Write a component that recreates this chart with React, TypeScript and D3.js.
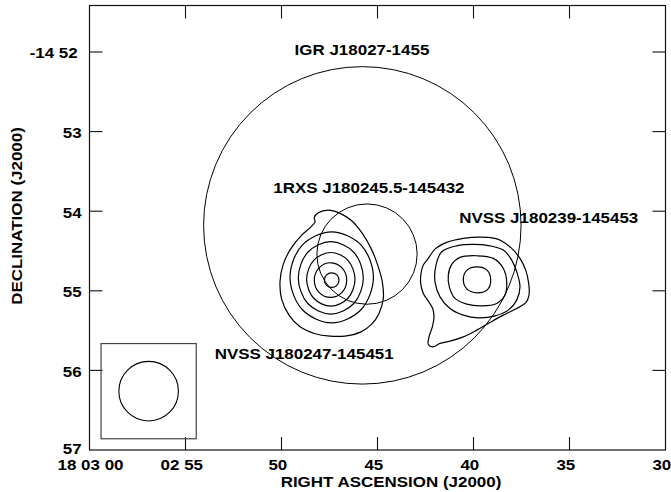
import React from 'react';
import * as d3 from 'd3';

const W = 671;
const H = 492;
const margin = { top: 5.5, right: 5.5, bottom: 42, left: 89.5 };

// RA in seconds past 18h02m, Dec in arcmin south of -14d
const raDomain = [60, 30];
const decDomain = [51.416, 57];
const raTicks = [60, 55, 50, 45, 40, 35, 30];
const raTickLabels = ['18 03 00', '02 55', '50', '45', '40', '35', '30'];
const decTicks = [52, 53, 54, 55, 56, 57];
const decTickLabels = ['-14 52', '53', '54', '55', '56', '57'];

// error circles (radius in arcmin)
const errorCircles = [
  { name: 'IGR J18027-1455', ra: 45.79, dec: 54.178, r: 1.994 },
  { name: '1RXS J180245.5-145432', ra: 45.546, dec: 54.539, r: 0.63 },
];

// synthesized beam
const beam = { ra: 56.92, dec: 56.261, r: 0.374, half: 0.598 };

// radio contours, NVSS J180247-145451 (inner to outer)
const contoursEast: [number, number][][] = [
  [[47.385, 54.774], [47.114, 54.8], [47.005, 54.866], [47.114, 54.931], [47.385, 54.958], [47.656, 54.931], [47.765, 54.866], [47.656, 54.8]],
  [[47.447, 54.648], [46.849, 54.712], [46.604, 54.866], [46.849, 55.019], [47.447, 55.083], [48.046, 55.019], [48.291, 54.866], [48.046, 54.712]],
  [[47.432, 54.519], [46.541, 54.617], [46.171, 54.856], [46.541, 55.094], [47.432, 55.193], [48.322, 55.094], [48.692, 54.856], [48.322, 54.617]],
  [[47.432, 54.383], [46.234, 54.516], [45.739, 54.838], [46.234, 55.16], [47.432, 55.293], [48.63, 55.16], [49.125, 54.838], [48.63, 54.516]],
  [[47.385, 54.259], [45.849, 54.426], [45.213, 54.831], [45.849, 55.235], [47.385, 55.403], [48.921, 55.235], [49.557, 54.831], [48.921, 54.426]],
  [
    [48.083, 54.02], [47.562, 53.986], [46.953, 54.027], [46.343, 54.12], [45.791, 54.279], [45.338, 54.467],
    [44.989, 54.677], [44.75, 54.887], [44.697, 55.096], [44.921, 55.284], [45.302, 55.419], [45.859, 55.516],
    [46.604, 55.566], [47.474, 55.57], [48.291, 55.536], [49.036, 55.453], [49.609, 55.306], [49.989, 55.108],
    [50.078, 54.887], [49.906, 54.665], [49.505, 54.467], [48.947, 54.3], [48.463, 54.196], [48.255, 54.133],
    [48.291, 54.078],
  ],
];

// radio contours, NVSS J180239-145453 (inner to outer)
const contoursWest: [number, number][][] = [
  [[39.817, 54.699], [39.296, 54.74], [39.104, 54.862], [39.27, 54.985], [39.817, 55.025], [40.338, 54.979], [40.531, 54.862], [40.338, 54.74]],
  [
    [40.703, 54.58], [39.833, 54.56], [38.968, 54.593], [38.447, 54.719], [38.27, 54.887], [38.359, 55.054],
    [38.791, 55.159], [39.572, 55.189], [40.354, 55.167], [40.963, 55.096], [41.26, 54.95], [41.312, 54.803],
    [41.135, 54.668],
  ],
  [
    [41.656, 54.51], [40.875, 54.435], [40.01, 54.417], [39.14, 54.435], [38.447, 54.489], [38.01, 54.614],
    [37.75, 54.761], [37.578, 54.95], [37.75, 55.117], [38.187, 55.243], [38.88, 55.315], [39.75, 55.34],
    [40.531, 55.306], [41.224, 55.222], [41.744, 55.076], [42.005, 54.887], [41.953, 54.677],
  ],
  [
    [42.354, 54.593], [42.005, 54.476], [41.395, 54.392], [40.531, 54.342], [39.661, 54.325], [38.88, 54.342],
    [38.531, 54.375], [38.01, 54.467], [37.578, 54.593], [37.281, 54.74], [37.125, 54.907], [37.109, 55.054],
    [37.265, 55.146], [37.75, 55.222], [38.447, 55.306], [39.14, 55.398], [39.833, 55.494], [40.531, 55.579],
    [41.224, 55.633], [41.744, 55.661], [42.125, 55.704], [42.354, 55.674], [42.317, 55.579], [42.145, 55.453],
    [42.057, 55.327], [42.125, 55.222], [42.354, 55.13], [42.614, 55.033], [42.75, 54.907], [42.734, 54.782],
    [42.614, 54.677],
  ],
];

// source labels, anchored at their centre / baseline
const sourceLabels = [
  { text: 'IGR J18027-1455', ra: 45.81, dec: 52.037 },
  { text: '1RXS J180245.5-145432', ra: 45.45, dec: 53.768 },
  { text: 'NVSS J180239-145453', ra: 36.08, dec: 54.153 },
  { text: 'NVSS J180247-145451', ra: 48.82, dec: 55.863 },
];

const font = 'Liberation Sans, Arial, Helvetica, sans-serif';
const stretch = 1.13;

const Label = ({ x, y, text, anchor = 'middle', rotate = 0 }: any) => (
  <text
    transform={`translate(${x},${y}) rotate(${rotate}) scale(${stretch},1)`}
    textAnchor={anchor}
    fontFamily={font}
    fontWeight="bold"
    fontSize={15}
    fill="#000"
  >
    {text}
  </text>
);

export default function App() {
  const x = d3.scaleLinear().domain(raDomain).range([margin.left, W - margin.right]);
  const y = d3.scaleLinear().domain(decDomain).range([margin.top, H - margin.bottom]);
  const pxPerArcmin = y(1) - y(0);

  const line = d3
    .line<[number, number]>()
    .x(d => x(d[0]))
    .y(d => y(d[1]))
    .curve(d3.curveCatmullRomClosed.alpha(0.5));

  const x0 = margin.left;
  const x1 = W - margin.right;
  const y0 = margin.top;
  const y1 = H - margin.bottom;
  const tick = 13;

  return (
    <svg width={W} height={H} style={{ position: 'absolute', left: 0, top: 0, background: '#fff' }}>
      <rect x={0} y={0} width={W} height={H} fill="#fff" />

      {/* frame */}
      <rect x={x0} y={y0} width={x1 - x0} height={y1 - y0} fill="none" stroke="#111" strokeWidth={1.2} />

      {/* ticks */}
      {raTicks.slice(1, -1).map(t => (
        <g key={'rx' + t} stroke="#111" strokeWidth={1.1}>
          <line x1={x(t)} x2={x(t)} y1={y1} y2={y1 - tick} />
          <line x1={x(t)} x2={x(t)} y1={y0} y2={y0 + tick} />
        </g>
      ))}
      {decTicks.slice(0, -1).map(t => (
        <g key={'dy' + t} stroke="#111" strokeWidth={1.1}>
          <line x1={x0} x2={x0 + tick} y1={y(t)} y2={y(t)} />
          <line x1={x1} x2={x1 - tick} y1={y(t)} y2={y(t)} />
        </g>
      ))}

      {/* tick labels */}
      {raTicks.map((t, i) => (
        <Label key={'rl' + t} x={x(t) + (i === 0 ? 1 : -3.7)} y={y1 + 20} text={raTickLabels[i]} />
      ))}
      {decTicks.map((t, i) => (
        <Label
          key={'dl' + t}
          x={i === 0 ? 77.7 : 81.7}
          y={y(t) + (i === decTicks.length - 1 ? 3.5 : 6.5)}
          text={decTickLabels[i]}
          anchor="end"
        />
      ))}

      {/* axis titles */}
      <Label x={391} y={487} text="RIGHT ASCENSION (J2000)" />
      <Label x={22} y={216} text="DECLINATION (J2000)" rotate={-90} />

      {/* beam */}
      <rect
        x={x(beam.ra) - beam.half * pxPerArcmin}
        y={y(beam.dec) - beam.half * pxPerArcmin}
        width={2 * beam.half * pxPerArcmin}
        height={2 * beam.half * pxPerArcmin}
        fill="none"
        stroke="#444"
        strokeWidth={1.2}
      />
      <circle cx={x(beam.ra)} cy={y(beam.dec)} r={beam.r * pxPerArcmin} fill="none" stroke="#000" strokeWidth={1.1} />

      {/* contours */}
      {[...contoursEast, ...contoursWest].map((c, i) => (
        <path key={'c' + i} d={line(c) || ''} fill="none" stroke="#000" strokeWidth={1.2} />
      ))}

      {/* error circles */}
      {errorCircles.map(c => (
        <circle key={c.name} cx={x(c.ra)} cy={y(c.dec)} r={c.r * pxPerArcmin} fill="none" stroke="#000" strokeWidth={1} />
      ))}

      {/* source labels */}
      {sourceLabels.map(l => (
        <Label key={l.text} x={x(l.ra)} y={y(l.dec)} text={l.text} />
      ))}
    </svg>
  );
}
